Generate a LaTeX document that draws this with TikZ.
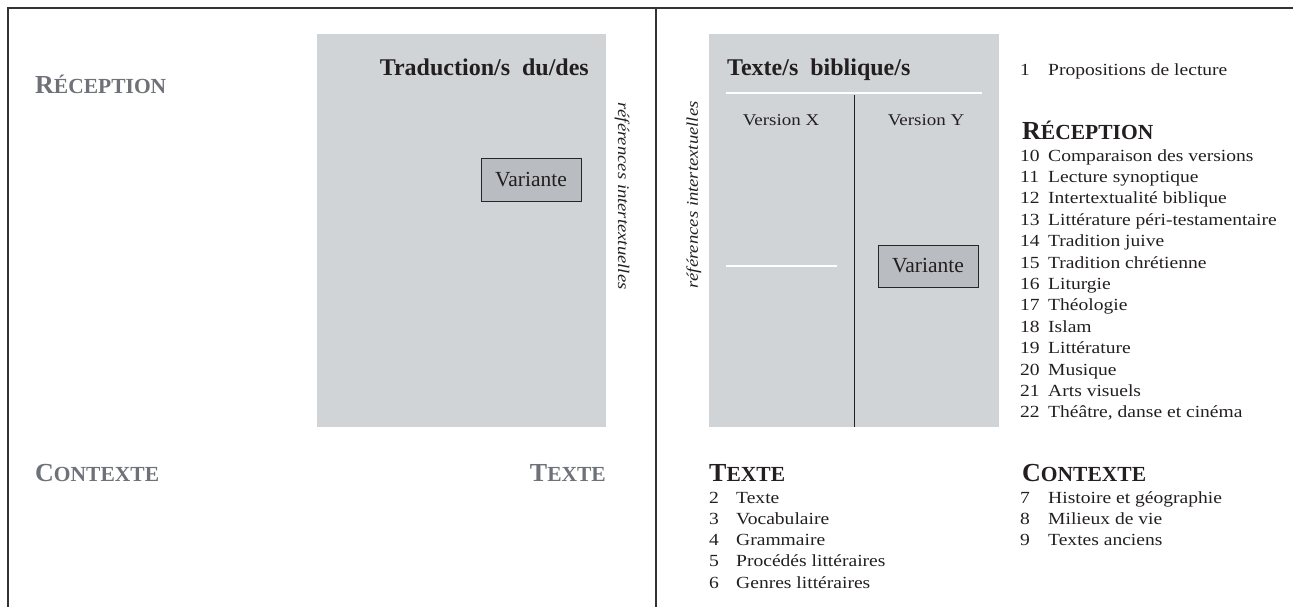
\documentclass[tikz,border=0pt]{standalone}
\usepackage{fontspec}
\setmainfont{Liberation Serif}
\newfontfamily\bodyfont{Liberation Serif}[FakeStretch=1.15]
\usetikzlibrary{positioning}

\definecolor{panelgray}{HTML}{D1D4D7}
\definecolor{boxgray}{HTML}{B9BCC0}
\definecolor{headgray}{HTML}{6E7178}
\definecolor{inkblack}{HTML}{231F20}

% fake small caps for the headings
\newcommand{\headcaps}[2]{{\fontsize{26}{26}\selectfont #1}{\fontsize{21.5}{26}\selectfont #2}}

\tikzset{
    title/.style={inner sep=0pt, text=inkblack, font=\fontsize{24}{26}\selectfont\bfseries},
    heading/.style={inner sep=0pt, anchor=base west, font=\bfseries},
    num/.style={inner sep=0pt, anchor=base west, text=inkblack, font=\bodyfont\fontsize{17}{20}\selectfont},
    item/.style={num},
    version/.style={inner sep=0pt, anchor=base, text=inkblack, font=\bodyfont\fontsize{16.5}{20}\selectfont},
    variante/.style={draw=black!85, fill=boxgray, line width=1pt, inner sep=0pt,
        minimum width=100pt, minimum height=42pt, text=inkblack, font=\fontsize{21.5}{24}\selectfont},
    intertext/.style={inner sep=0pt, text=inkblack, font=\bodyfont\fontsize{16.2}{20}\selectfont\itshape},
    frameline/.style={line width=1.5pt, draw=black!80}
}

\begin{document}
\begin{tikzpicture}[x=1pt, y=-1pt]
    \useasboundingbox (0,0) rectangle (1293,607);

    % the frame
    \draw[frameline] (8,607) -- (8,8) -- (1293,8);
    \draw[frameline] (656,8) -- (656,607);

    % left page
    \fill[panelgray] (317,34) rectangle (606,427);
    \node[title, anchor=base east] (traduction) at (589,76) {Traduction/s\ \ du/des};
    \node[variante] (varL) at (531,180) {Variante};
    \node[intertext, rotate=-90] (refsL) at (622,196) {références intertextuelles};

    \node[heading, text=headgray] (recL) at (35,94) {\headcaps{R}{ÉCEPTION}};
    \node[heading, text=headgray] (conL) at (35,481) {\headcaps{C}{ONTEXTE}};
    \node[heading, text=headgray, anchor=base east] (texL) at (606,481) {\headcaps{T}{EXTE}};

    % right page
    \fill[panelgray] (709,34) rectangle (999,427);
    \node[title, anchor=base west] (biblique) at (727,76) {Texte/s\ \ biblique/s};
    \draw[white, line width=1.2pt] (726,93) -- (982,93);
    \draw[inkblack, line width=1pt] (854,95) -- (854,427);
    \draw[white, line width=1.2pt] (726,266) -- (837,266);
    \node[version] (versX) at (781,126) {Version X};
    \node[version] (versY) at (926,126) {Version Y};
    \node[variante] (varR) at (928,266) {Variante};
    \node[intertext, rotate=90] (refsR) at (694,195) {références intertextuelles};

    % the lists
    \node[num] (n1) at (1020,76) {1};
    \node[item] (t1) at (1048,76) {Propositions de lecture};

    \node[heading, text=inkblack] (recR) at (1022,140) {\headcaps{R}{ÉCEPTION}};
    \foreach \n/\t [count=\k from 0] in {10/Comparaison des versions, 11/Lecture synoptique,
        12/Intertextualité biblique, 13/Littérature péri-testamentaire, 14/Tradition juive,
        15/Tradition chrétienne, 16/Liturgie, 17/Théologie, 18/Islam, 19/Littérature,
        20/Musique, 21/Arts visuels, 22/{Théâtre, danse et cinéma}} {
        \node[num] (n\n) at (1020,{161+\k*21.4}) {\n};
        \node[item] (t\n) at (1048,{161+\k*21.4}) {\t};
    };

    \node[heading, text=inkblack] (texR) at (709,481) {\headcaps{T}{EXTE}};
    \foreach \n/\t [count=\k from 0] in {2/Texte, 3/Vocabulaire, 4/Grammaire,
        5/Procédés littéraires, 6/Genres littéraires} {
        \node[num] (n\n) at (709,{503+\k*21.3}) {\n};
        \node[item] (t\n) at (736,{503+\k*21.3}) {\t};
    };

    \node[heading, text=inkblack] (conR) at (1022,481) {\headcaps{C}{ONTEXTE}};
    \foreach \n/\t [count=\k from 0] in {7/Histoire et géographie, 8/Milieux de vie, 9/Textes anciens} {
        \node[num] (n\n) at (1020,{503+\k*21.3}) {\n};
        \node[item] (t\n) at (1048,{503+\k*21.3}) {\t};
    };
\end{tikzpicture}
\end{document}
